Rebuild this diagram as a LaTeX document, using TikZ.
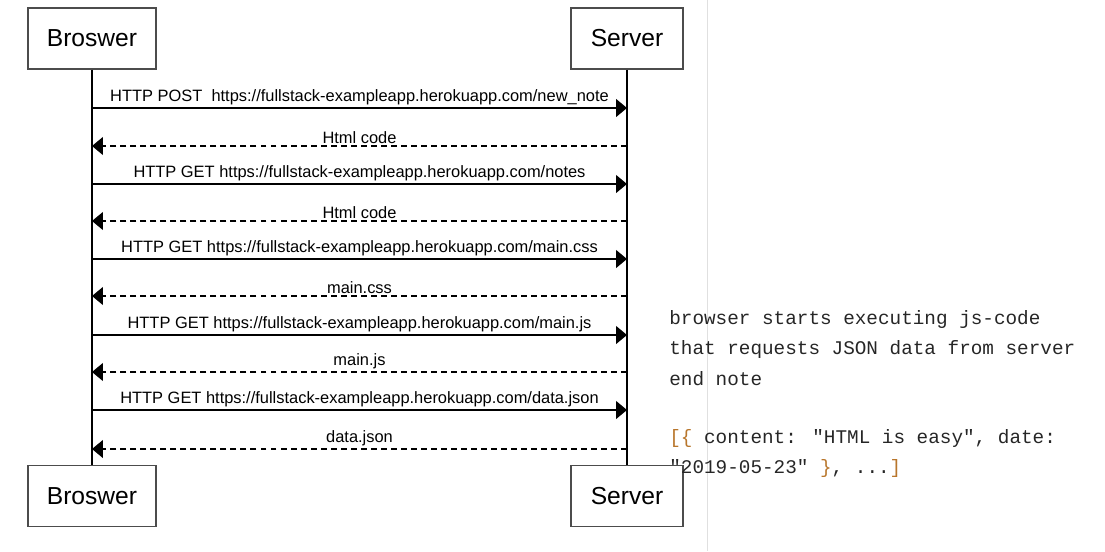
\documentclass[tikz,border=0pt]{standalone}
\usepackage{fontspec}
\setmainfont{Liberation Sans}
\newfontfamily\notefont{Liberation Mono}
\usetikzlibrary{arrows.meta}
\definecolor{bracecol}{HTML}{B8762C}
\tikzset{
  actor/.style={draw=black!70, line width=0.8pt, minimum width=#1, minimum height=1.22cm,
    inner sep=0pt, font=\fontsize{14}{16}\selectfont},
  msg/.style={-{Triangle[length=0.22cm,width=0.36cm]}, line width=0.6pt},
  reply/.style={msg, dash pattern=on 3.4pt off 2.3pt},
  lbl/.style={above, inner sep=1.3pt, font=\fontsize{9.35}{11}\selectfont},
  note/.style={anchor=base west, inner sep=0pt, text=black!85, font=\notefont\fontsize{11}{13}\selectfont}
}
\begin{document}
\begin{tikzpicture}[x=0.02cm,y=-0.02cm]
\useasboundingbox (0,0) rectangle (1105,551);
\draw[black!12] (707,0) -- (707,551);

% actors
\node[actor=2.56cm] (bt) at (92,38.5) {Broswer};
\node[actor=2.24cm] (st) at (627,38.5) {Server};
\node[actor=2.56cm] (bb) at (92,496) {Broswer};
\node[actor=2.24cm] (sb) at (627,496) {Server};
\draw[line width=0.6pt] (bt) -- (bb);
\draw[line width=0.6pt] (st) -- (sb);

% requests
\foreach \y/\txt in {108/{HTTP POST\ \ https://fullstack-exampleapp.herokuapp.com/new\_note},
    184/{HTTP GET https://fullstack-exampleapp.herokuapp.com/notes},
    259/{HTTP GET https://fullstack-exampleapp.herokuapp.com/main.css},
    335/{HTTP GET https://fullstack-exampleapp.herokuapp.com/main.js},
    410/{HTTP GET https://fullstack-exampleapp.herokuapp.com/data.json}}
  \draw[msg] (bt |- 0,\y) -- node[lbl] {\txt} (st |- 0,\y);

% replies
\foreach \y/\txt in {146/{Html code}, 221/{Html code}, 296/{main.css}, 372/{main.js}, 449/{data.json}}
  \draw[reply] (st |- 0,\y) -- node[lbl] {\txt} (bt |- 0,\y);

% note
\node[note] (n1) at (669,324) {browser starts executing js-code};
\node[note] (n2) at (669,354) {that requests JSON data from server};
\node[note] (n3) at (669,385) {end note};
\node[note] (n4) at (669,443) {\textcolor{bracecol}{[\{} content: "HTML is easy", date:};
\node[note] (n5) at (669,473) {"2019-05-23" \textcolor{bracecol}{\}}, ...\textcolor{bracecol}{]}};
\end{tikzpicture}
\end{document}
